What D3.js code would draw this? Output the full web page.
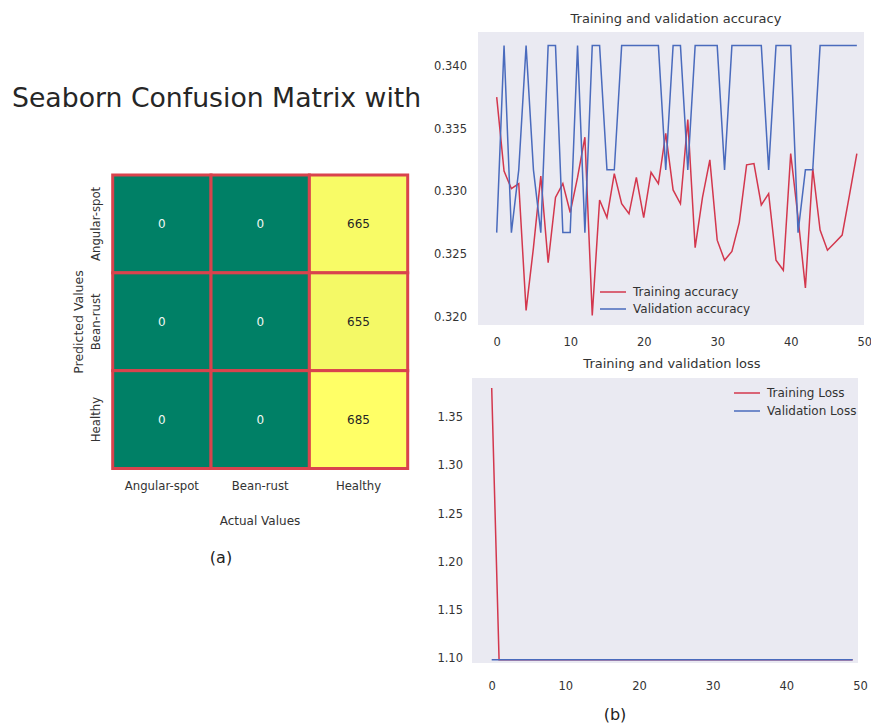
<!DOCTYPE html>
<html><head><meta charset="utf-8">
<script src="https://cdn.jsdelivr.net/npm/d3@7"></script>
<style>body{margin:0;background:#fff}svg{display:block;font-family:"DejaVu Sans",sans-serif}</style>
</head><body><svg id="c" width="871" height="725"></svg>
<script>
// ---------- data ----------
const classes = ["Angular-spot", "Bean-rust", "Healthy"];
const matrixValues = [[0, 0, 665], [0, 0, 655], [0, 0, 685]];
const epochs = d3.range(50);
const trainAcc = [0.3375,0.3316,0.3302,0.3306,0.3205,0.3255,0.3312,0.3243,0.3295,0.3306,
  0.3283,0.3311,0.3343,0.3201,0.3293,0.3279,0.3314,0.3290,0.3282,0.3311,
  0.3279,0.3315,0.3306,0.3346,0.3301,0.3290,0.3357,0.3255,0.3295,0.3325,
  0.3261,0.3245,0.3252,0.3275,0.3321,0.3322,0.3289,0.3298,0.3245,0.3237,
  0.3330,0.3279,0.3223,0.3318,0.3269,0.3253,0.3259,0.3265,0.3297,0.3330];
const valAcc = [0.3267,0.3416,0.3267,0.3317,0.3416,0.3317,0.3267,0.3416,0.3416,0.3267,
  0.3267,0.3416,0.3267,0.3416,0.3416,0.3317,0.3317,0.3416,0.3416,0.3416,
  0.3416,0.3416,0.3416,0.3317,0.3416,0.3416,0.3317,0.3416,0.3416,0.3416,
  0.3416,0.3317,0.3416,0.3416,0.3416,0.3416,0.3416,0.3317,0.3416,0.3416,
  0.3416,0.3267,0.3317,0.3317,0.3416,0.3416,0.3416,0.3416,0.3416,0.3416];
const trainLoss = [1.3797,1.0986,1.0986,1.0986,1.0986,1.0986,1.0986,1.0986,1.0986,1.0986,
  1.0986,1.0986,1.0986,1.0986,1.0986,1.0986,1.0986,1.0986,1.0986,1.0986,
  1.0986,1.0986,1.0986,1.0986,1.0986,1.0986,1.0986,1.0986,1.0986,1.0986,
  1.0986,1.0986,1.0986,1.0986,1.0986,1.0986,1.0986,1.0986,1.0986,1.0986,
  1.0986,1.0986,1.0986,1.0986,1.0986,1.0986,1.0986,1.0986,1.0986,1.0986];
const valLoss = [1.0986,1.0986,1.0986,1.0986,1.0986,1.0986,1.0986,1.0986,1.0986,1.0986,
  1.0986,1.0986,1.0986,1.0986,1.0986,1.0986,1.0986,1.0986,1.0986,1.0986,
  1.0986,1.0986,1.0986,1.0986,1.0986,1.0986,1.0986,1.0986,1.0986,1.0986,
  1.0986,1.0986,1.0986,1.0986,1.0986,1.0986,1.0986,1.0986,1.0986,1.0986,
  1.0986,1.0986,1.0986,1.0986,1.0986,1.0986,1.0986,1.0986,1.0986,1.0986];
const accTicks = [0.320, 0.325, 0.330, 0.335, 0.340];
const lossTicks = [1.10, 1.15, 1.20, 1.25, 1.30, 1.35];
const epochTicks = [0, 10, 20, 30, 40, 50];

// ---------- styles ----------
const RED = "#d3374d", BLUE = "#4a6bbd", TXT = "#333", BG = "#eaeaf2";
const svg = d3.select("#c");

// ---------- confusion matrix ----------
svg.append("text").attr("x", 12).attr("y", 107).attr("font-size", 26.7).attr("fill", "#262626")
  .text("Seaborn Confusion Matrix with");

const hx = d3.scaleBand().domain(classes).range([112.7, 407.7]);
const hy = d3.scaleBand().domain(classes).range([175, 468.5]);
const color = d3.scaleLinear().domain([0, 685]).range(["#008066", "#ffff66"]);
const cells = [];
matrixValues.forEach((row, r) => row.forEach((v, c) => cells.push({r, c, v})));
const hm = svg.append("g");
hm.selectAll("rect").data(cells).join("rect")
  .attr("x", d => hx(classes[d.c])).attr("y", d => hy(classes[d.r]))
  .attr("width", hx.bandwidth()).attr("height", hy.bandwidth())
  .attr("fill", d => color(d.v)).attr("stroke", "#d9434d").attr("stroke-width", 3);
hm.selectAll("text").data(cells).join("text")
  .attr("x", d => hx(classes[d.c]) + hx.bandwidth() / 2)
  .attr("y", d => hy(classes[d.r]) + hy.bandwidth() / 2)
  .attr("text-anchor", "middle").attr("dominant-baseline", "central")
  .attr("font-size", 12).attr("fill", d => d.v > 342 ? "#262626" : "#f2f7f4")
  .text(d => d.v);
const hxAxis = svg.append("g").attr("transform", "translate(0,468.5)")
  .call(d3.axisBottom(hx).tickSize(0).tickPadding(13));
hxAxis.select(".domain").remove();
hxAxis.selectAll("text").attr("font-size", 11.7).attr("fill", TXT).attr("font-family", "DejaVu Sans");
const hyAxis = svg.append("g").attr("transform", "translate(112.7,0)")
  .call(d3.axisLeft(hy).tickSize(0).tickPadding(0));
hyAxis.select(".domain").remove();
hyAxis.selectAll("text").attr("font-size", 11.7).attr("fill", TXT).attr("font-family", "DejaVu Sans")
  .attr("text-anchor", "middle").attr("dy", null)
  .attr("transform", "translate(-17,0) rotate(-90)").attr("x", 0).attr("y", 0)
  .attr("dominant-baseline", "central");
svg.append("text").attr("x", 260).attr("y", 525).attr("text-anchor", "middle")
  .attr("font-size", 12).attr("fill", TXT).text("Actual Values");
svg.append("text").attr("transform", "translate(78,322) rotate(-90)").attr("text-anchor", "middle")
  .attr("dominant-baseline", "central").attr("font-size", 12.5).attr("fill", TXT).text("Predicted Values");
svg.append("text").attr("x", 221).attr("y", 563).attr("text-anchor", "middle")
  .attr("font-size", 16).attr("fill", "#222").text("(a)");

// ---------- line chart helper ----------
function lineChart(o) {
  const g = svg.append("g");
  g.append("rect").attr("x", o.bg[0]).attr("y", o.bg[1]).attr("width", o.bg[2] - o.bg[0])
    .attr("height", o.bg[3] - o.bg[1]).attr("fill", BG);
  const x = d3.scaleLinear().domain([0, 50]).range(o.xr);
  const y = d3.scaleLinear().domain(o.yd).range(o.yr);
  const xa = g.append("g").attr("transform", `translate(0,${o.xAxisY})`)
    .call(d3.axisBottom(x).tickValues(epochTicks).tickSize(0).tickPadding(0).tickFormat(d3.format("d")));
  xa.select(".domain").remove();
  xa.selectAll("text").attr("font-size", 11.5).attr("fill", TXT).attr("font-family", "DejaVu Sans");
  const ya = g.append("g").attr("transform", `translate(${o.yAxisX},0)`)
    .call(d3.axisLeft(y).tickValues(o.yTicks).tickSize(0).tickPadding(0).tickFormat(d3.format(o.fmt)));
  ya.select(".domain").remove();
  ya.selectAll("text").attr("font-size", 11.5).attr("fill", TXT).attr("font-family", "DejaVu Sans");
  const line = d3.line().x((d, i) => x(epochs[i])).y(d => y(d));
  g.append("path").datum(o.s1).attr("d", line).attr("fill", "none").attr("stroke", RED).attr("stroke-width", 1.5);
  g.append("path").datum(o.s2).attr("d", line).attr("fill", "none").attr("stroke", BLUE).attr("stroke-width", 1.5);
  g.append("text").attr("x", o.title[0]).attr("y", o.title[1]).attr("text-anchor", "middle")
    .attr("font-size", 13).attr("fill", TXT).text(o.title[2]);
  o.legend.forEach((l, i) => {
    g.append("line").attr("x1", l[0]).attr("x2", l[0] + 26).attr("y1", l[1]).attr("y2", l[1])
      .attr("stroke", i ? BLUE : RED).attr("stroke-width", 1.5);
    g.append("text").attr("x", l[0] + 33).attr("y", l[1]).attr("dominant-baseline", "central")
      .attr("font-size", 12).attr("fill", TXT).text(l[2]);
  });
}

lineChart({
  bg: [478, 32, 864, 325], xr: [496.7, 864.2], yd: [0.320, 0.340], yr: [316.7, 65.7],
  xAxisY: 338, yAxisX: 467, yTicks: accTicks, fmt: ".3f", s1: trainAcc, s2: valAcc,
  title: [676, 23, "Training and validation accuracy"],
  legend: [[600, 292, "Training accuracy"], [600, 309, "Validation accuracy"]]
});
lineChart({
  bg: [472, 378, 858, 663], xr: [491.7, 860], yd: [1.10, 1.35], yr: [658.3, 416.7],
  xAxisY: 682, yAxisX: 463, yTicks: lossTicks, fmt: ".2f", s1: trainLoss, s2: valLoss,
  title: [672, 368, "Training and validation loss"],
  legend: [[734, 393, "Training Loss"], [734, 411, "Validation Loss"]]
});
svg.append("text").attr("x", 615).attr("y", 720).attr("text-anchor", "middle")
  .attr("font-size", 16).attr("fill", "#222").text("(b)");
</script></body></html>
